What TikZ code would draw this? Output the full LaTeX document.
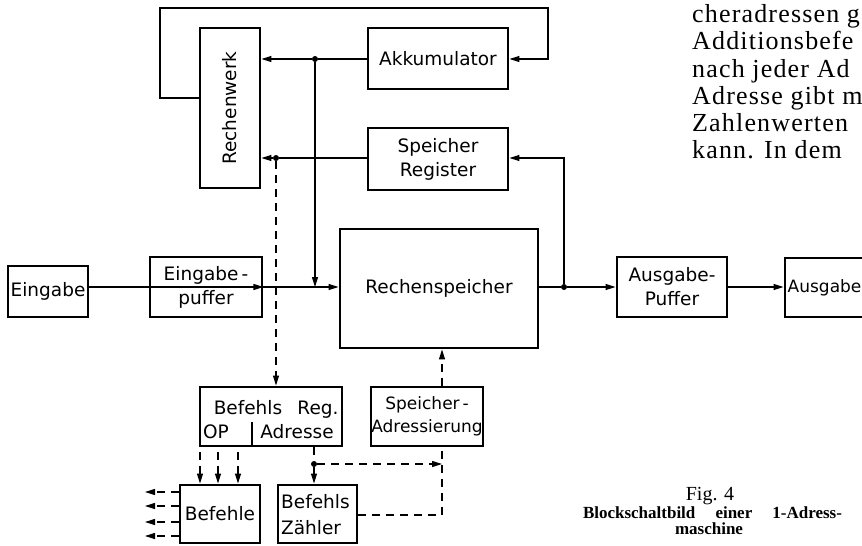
\documentclass[tikz,border=0pt]{standalone}
\usepackage{fontspec}
\setmainfont{Liberation Serif}
\newfontfamily\labelfont{DejaVu Sans}
\newfontfamily\pagefont[LetterSpace=4.5]{Liberation Serif}
\usetikzlibrary{arrows.meta}

\begin{document}
\begin{tikzpicture}[x=1pt,y=-1pt,
  blk/.style={draw, line width=2.9pt, inner sep=0pt, align=center,
    font=\labelfont\fontsize{18.5}{24}\selectfont},
  lbl/.style={inner sep=0pt, font=\labelfont\fontsize{18.5}{24}\selectfont},
  wire/.style={line width=1.1pt},
  arr/.style={wire, -{Triangle[length=10pt,width=6pt]}},
  dwire/.style={wire, dash pattern=on 8pt off 6pt},
  darr/.style={dwire, -{Triangle[length=10pt,width=6pt]}},
  jdot/.style={circle, fill, inner sep=0pt, minimum size=6pt},
  bodytext/.style={inner sep=0pt, anchor=base west, font=\pagefont\fontsize{26}{28}\selectfont},
]
\clip (0,0) rectangle (862,546);
\fill[white] (0,0) rectangle (862,546);

% ---- blocks ----
\node[blk, minimum width=60, minimum height=160] (rw) at (230,108) {};
\node[lbl, rotate=90] (rwl) at (rw.center) {Rechenwerk};
\node[blk, minimum width=140, minimum height=61] (akk) at (438,58.5) {Akkumulator};
\node[blk, minimum width=140, minimum height=62] (sreg) at (438,159) {Speicher\\Register};
\node[blk, minimum width=80, minimum height=51] (ein) at (48,291.5) {Eingabe};
\node[blk, minimum width=112, minimum height=60] (epuf) at (206,287) {Eingabe\,-\\puffer};
\node[blk, minimum width=198, minimum height=119] (rsp) at (439,288.5) {Rechenspeicher};
\node[blk, minimum width=110, minimum height=60] (apuf) at (672,287) {Ausgabe-\\Puffer};
\node[blk, minimum width=90, minimum height=59] (aus) at (830,287.5) {};
\node[lbl, anchor=west, font=\labelfont\fontsize{17}{22}\selectfont] (ausl) at (787.5,287.5) {Ausgabe};

\node[blk, minimum width=142, minimum height=59] (breg) at (271,416.5) {};
\node[lbl, anchor=base] (bregA) at (248,414) {Befehls};
\node[lbl, anchor=base] (bregB) at (318,414) {Reg.};
\node[lbl, anchor=base] (bregC) at (216,438) {OP};
\node[lbl, anchor=base] (bregD) at (297,438) {Adresse};
\coordinate (dv) at (252,422);
\draw[line width=1.8pt] (dv) -- (dv |- breg.south);

\node[blk, minimum width=112, minimum height=59,
  font=\labelfont\fontsize{17}{23}\selectfont] (sadr) at (427,416.5) {Speicher\,-\\Adressierung};
\node[blk, minimum width=80, minimum height=58] (bef) at (220,514) {Befehle};
\node[blk, minimum width=79, minimum height=58] (bz) at (317.5,514) {};
\node[lbl, anchor=base west] (bzA) at (281,508) {Befehls};
\node[lbl, anchor=base west] (bzB) at (281,534) {Zähler};

% ---- junctions ----
\node[jdot] (j1) at (315,59) {};
\node[jdot] (j2) at (276,158) {};
\node[jdot] (j3) at (564,287) {};
\node[jdot] (j4) at (314,464) {};

% ---- solid data paths ----
\coordinate (l1) at (160,98);
\coordinate (l2) at (160,8);
\coordinate (l3) at (548,8);
\coordinate (l4) at (548,59);
\draw[arr] (rw.west |- l1) -- (l1) -- (l2) -- (l3) -- (l4) -- (akk.east |- l4);
\draw[arr] (akk.west |- j1) -- (j1) -- (rw.east |- j1);
\draw[arr] (j1) -- (j1 |- epuf.east);
\draw[arr] (ein.east |- epuf.east) -- (epuf.east);
\draw[arr] (epuf.east) -- (rsp.west |- epuf.east);
\draw[arr] (sreg.west |- j2) -- (j2) -- (rw.east |- j2);
\draw[arr] (rsp.east |- j3) -- (j3) -- (apuf.west |- j3);
\coordinate (r1) at (564,158);
\draw[arr] (j3) -- (r1) -- (sreg.east |- r1);
\draw[arr] (apuf.east) -- (aus.west |- apuf.east);

% ---- dashed control paths ----
\coordinate (sx) at (442,0);
\draw[darr] (j2) -- (j2 |- breg.north);
\draw[dwire] (j4 |- breg.south) -- (j4);
\draw[darr] (j4) -- (j4 |- bz.north);
\draw[darr] (j4) -- (sx |- j4);
\coordinate (z1) at (442,515);
\draw[dwire] (bz.east |- z1) -- (z1) -- (sx |- sadr.south);
\draw[darr] (sx |- sadr.north) -- (sx |- rsp.south);
\foreach \xx in {200,218,238} {
  \coordinate (o\xx) at (\xx,452);
  \draw[darr] (o\xx) -- (o\xx |- bef.north);
}
\foreach \yy in {492,506,522,536} {
  \coordinate (e\yy) at (145,\yy);
  \draw[darr] (bef.west |- e\yy) -- (e\yy);
}

% ---- running text of the page ----
\node[bodytext] (t1) at (692,22) {cheradressen g};
\node[bodytext] (t2) at (692,49.5) {Additionsbefe};
\node[bodytext] (t3) at (692,77) {nach jeder Ad};
\node[bodytext] (t4) at (692,104) {Adresse gibt m};
\node[bodytext] (t5) at (692,131) {Zahlenwerten};
\node[bodytext] (t6) at (692,158) {kann. In dem};

% ---- caption ----
\node[inner sep=0pt, anchor=base, font=\fontsize{20}{24}\selectfont] (cap1) at (710,500) {Fig. 4};
\node[inner sep=0pt, anchor=base, font=\bfseries\fontsize{17}{19}\selectfont] (cap2) at (712.5,518.5)
  {\makebox[259pt][s]{Blockschaltbild einer 1-Adress-}};
\node[inner sep=0pt, anchor=base, font=\bfseries\fontsize{17}{19}\selectfont] (cap3) at (709,534) {maschine};
\end{tikzpicture}
\end{document}
